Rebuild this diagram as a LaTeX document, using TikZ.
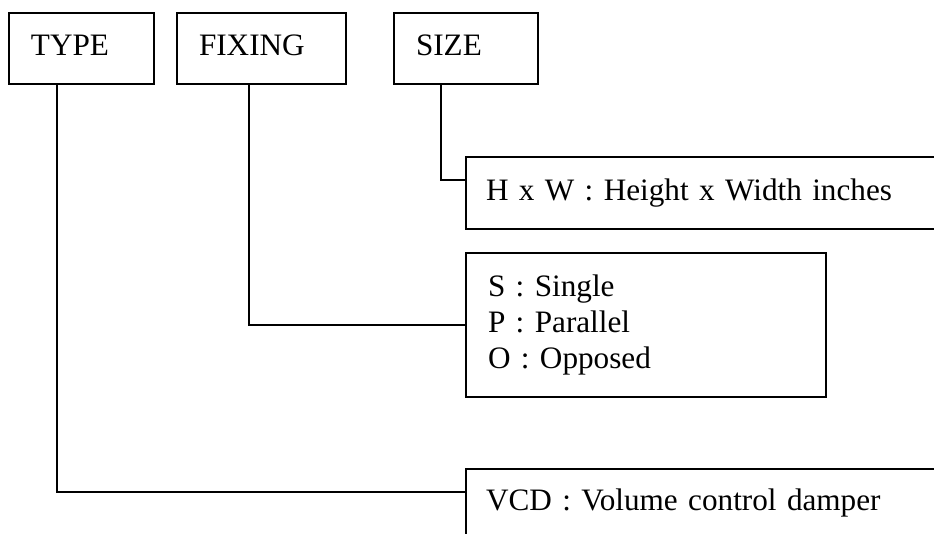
\documentclass[tikz,border=0pt]{standalone}
\usepackage{fontspec}
\setmainfont{Liberation Serif}

\begin{document}
\begin{tikzpicture}[x=0.5pt,y=-0.5pt,every node/.style={font=\fontsize{15.6}{18}\selectfont},
 box/.style={draw,line width=1pt,anchor=north west,align=left,inner ysep=0pt,inner xsep=11pt,
  execute at begin node=\strut,execute at end node=\strut},
 link/.style={line width=1pt}]
\useasboundingbox (0,0) rectangle (934,534);
\node[box,minimum width=72.5pt,minimum height=35.5pt,text width=50.5pt] (type) at (8,12) {TYPE};
\node[box,minimum width=84.5pt,minimum height=35.5pt,text width=62.5pt] (fixing) at (176,12) {FIXING};
\node[box,minimum width=72pt,minimum height=35.5pt,text width=50pt] (size) at (393,12) {SIZE};
\node[box,minimum width=300pt,minimum height=36pt,inner xsep=10pt,text width=280pt] (hw) at (465,156) {H x W : Height x Width inches};
\node[box,minimum width=180pt,minimum height=72pt,text width=158pt] (sopt) at (465,252) {S : Single\\ P : Parallel\\ O : Opposed};
\node[box,minimum width=300pt,minimum height=34.5pt,inner xsep=10pt,text width=280pt] (vcd) at (465,468) {VCD : Volume control damper};
\draw[link] ([xshift=24.5pt]type.south west) |- ([yshift=-12pt]vcd.north west);
\draw[link] ([xshift=36.5pt]fixing.south west) |- (sopt.west);
\draw[link] ([xshift=24pt]size.south west) |- ([yshift=-12pt]hw.north west);
\end{tikzpicture}
\end{document}
